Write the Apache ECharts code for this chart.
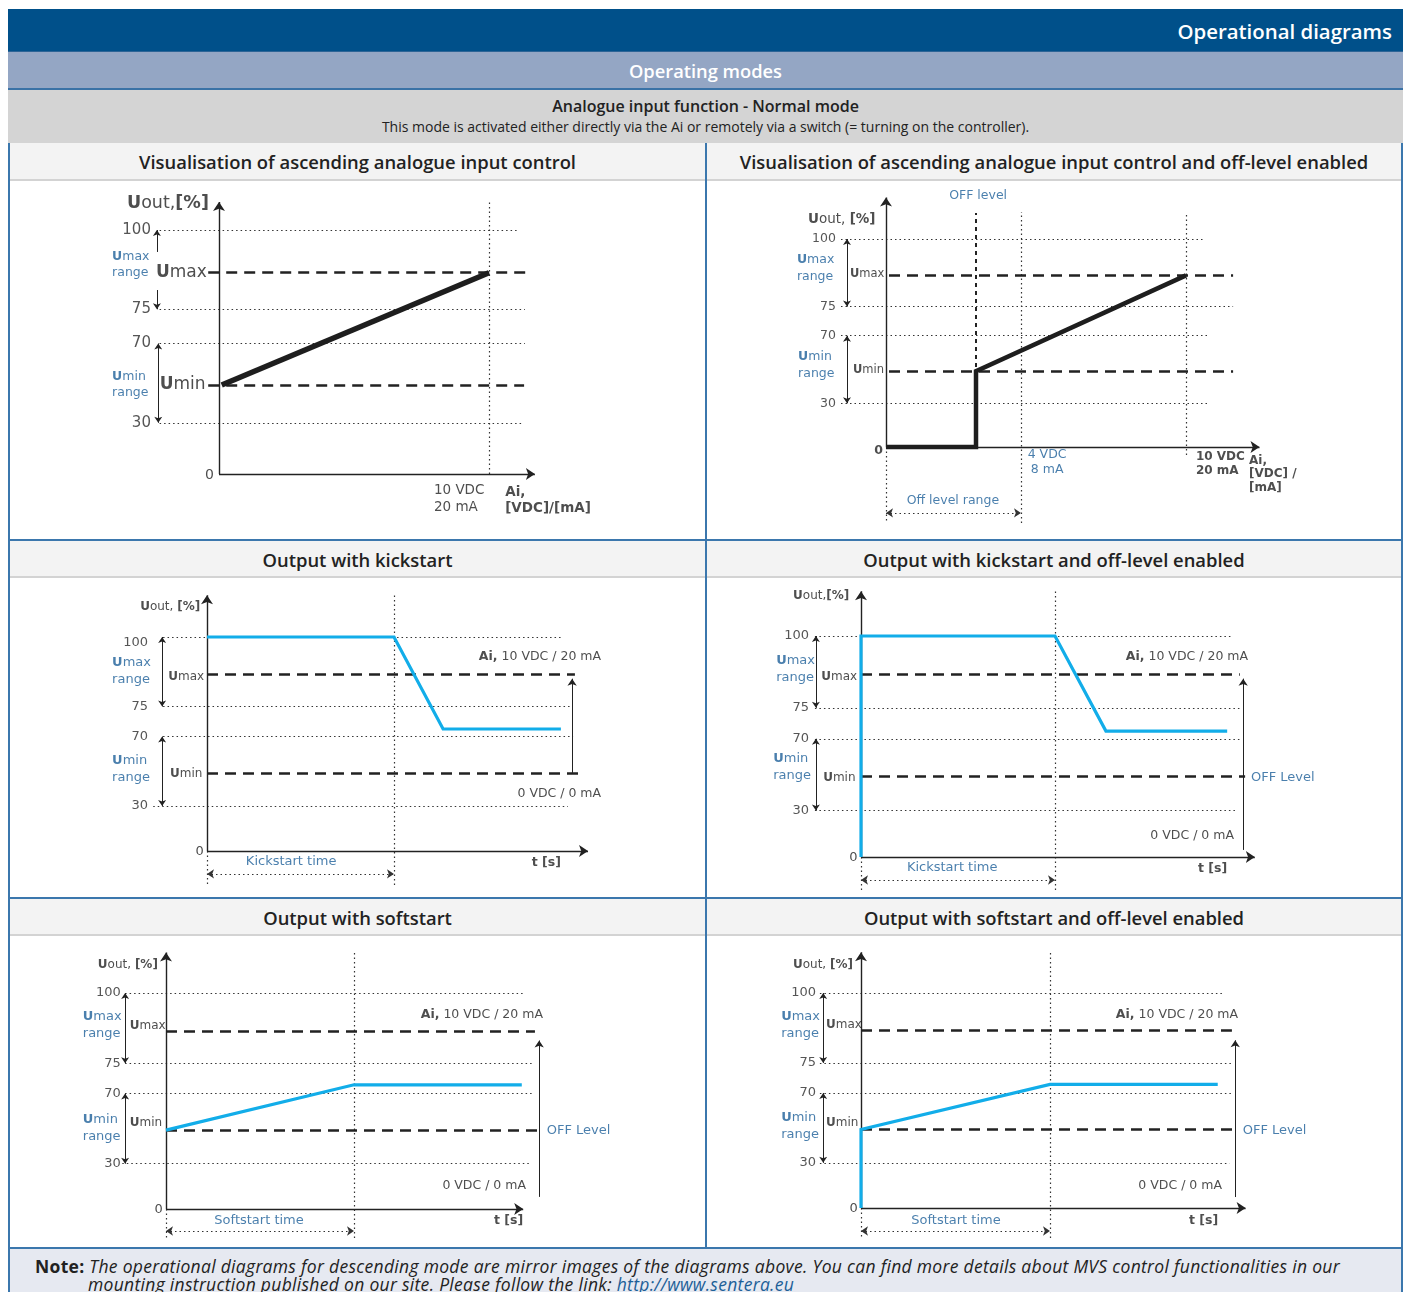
<!DOCTYPE html>
<html><head><meta charset="utf-8"><title>Operational diagrams</title>
<script src="https://cdn.jsdelivr.net/npm/echarts@6.0.0/dist/echarts.min.js"></script>
<style>
html,body{margin:0;padding:0;background:#fff;}
#page{position:relative;width:1405px;height:1292px;overflow:hidden;font-family:'Open Sans','Noto Sans',sans-serif;color:#222;}
.blk{position:absolute;box-sizing:border-box;}
.ttl{position:absolute;box-sizing:border-box;background:#f3f3f3;border-bottom:2px solid #d3d3d3;text-align:center;font-size:18.4px;font-weight:600;color:#222;}
.hl{position:absolute;left:8px;width:1395px;height:2px;background:#3b77ad;}
#chart{position:absolute;left:0;top:0;width:1405px;height:1292px;z-index:5;}
</style></head>
<body><div id="page">
<div class="blk" style="left:8px;top:9px;width:1395px;height:42px;background:#00508a;color:#fff;font-size:20.4px;font-weight:600;text-align:right;line-height:44px;padding-right:11px;">Operational diagrams</div>
<div class="blk" style="left:8px;top:51px;width:1395px;height:39px;background:#94a6c4;border-top:1px solid #2d6496;border-bottom:2px solid #3a72a6;color:#fff;font-size:18.3px;font-weight:600;text-align:center;line-height:38px;">Operating modes</div>
<div class="blk" style="left:8px;top:90px;width:1395px;height:53px;background:#d4d4d4;text-align:center;color:#222;">
  <div style="font-size:16px;font-weight:600;padding-top:5px;line-height:23px;">Analogue input function - Normal mode</div>
  <div style="font-size:14px;line-height:18px;">This mode is activated either directly via the Ai or remotely via a switch (= turning on the controller).</div>
</div>
<div class="blk" style="left:8px;top:143px;width:1395px;height:1150px;border-left:2px solid #3b77ad;border-right:2px solid #3b77ad;"></div>
<div class="ttl" style="left:10px;top:143px;width:695px;height:38px;line-height:38px;">Visualisation of ascending analogue input control</div>
<div class="ttl" style="left:707px;top:143px;width:694px;height:38px;line-height:38px;">Visualisation of ascending analogue input control and off-level enabled</div>
<div class="hl" style="top:539px;"></div>
<div class="ttl" style="left:10px;top:541px;width:695px;height:37px;line-height:37px;">Output with kickstart</div>
<div class="ttl" style="left:707px;top:541px;width:694px;height:37px;line-height:37px;">Output with kickstart and off-level enabled</div>
<div class="hl" style="top:897px;"></div>
<div class="ttl" style="left:10px;top:899px;width:695px;height:37px;line-height:37px;">Output with softstart</div>
<div class="ttl" style="left:707px;top:899px;width:694px;height:37px;line-height:37px;">Output with softstart and off-level enabled</div>
<div class="hl" style="top:1247px;"></div>
<div class="blk" style="left:705px;top:143px;width:2px;height:1105px;background:#3b77ad;"></div>
<div class="blk" style="left:10px;top:1249px;width:1391px;height:43px;background:#e6e9f1;font-size:17.5px;line-height:18px;color:#222;letter-spacing:0.3px;">
  <div style="position:absolute;left:25px;top:8px;white-space:nowrap;"><b>Note:</b> <i>The operational diagrams for descending mode are mirror images of the diagrams above. You can find more details about MVS control functionalities in our</i></div>
  <div style="position:absolute;left:78px;top:26px;white-space:nowrap;"><i>mounting instruction published on our site. Please follow the link: <span style="color:#1d5f98;">http://www.sentera.eu</span></i></div>
</div>
<div id="chart"></div>
</div>
<script>
// ---------------- data ----------------
// schematic output levels (height on the diagram's Uout scale)
const levelNames  = ['0', '30', 'Umin', '70', '75', 'Umax', '100'];
const levelValues = [0, 21, 36.5, 53.5, 67.5, 82.5, 100];
const tickLabels  = ['100', '75', '70', '30'];

// 1. ascending analogue input control (x = Ai in VDC)
const aiInput  = [0.1, 10];
const aiOutput = [36.5, 82.5];

// 2. ascending control with off-level (x = Ai in VDC, schematic)
const offAiInput  = [0, 3, 3, 10];
const offAiOutput = [0, 0, 36.5, 82.5];
const offLevelMark = 3;     // OFF level
const fourVdcMark  = 4.5;   // 4 VDC / 8 mA mark (schematic)
const tenVdcMark   = 10;

// 3. output with kickstart (x = time, schematic)
const kickTime   = [0, 4, 5.05, 7.57];
const kickOutput = [100, 100, 57, 57];
// 4. output with kickstart and off-level
const kickOffTime   = [0, 0, 4, 5.05, 7.55];
const kickOffOutput = [0, 100, 100, 57, 57];
// 5. output with softstart
const softTime   = [0, 4, 7.57];
const softOutput = [36.5, 57.5, 57.5];
// 6. output with softstart and off-level
const softOffTime   = [0, 0, 4, 7.55];
const softOffOutput = [0, 36.5, 57.5, 57.5];
const startTimeMark = 4;

// ---------------- helpers ----------------
const FONT = "'DejaVu Sans', Verdana, sans-serif";
const BLUE_TXT = '#1d5f98';
const BLUE_LINE = '#12ade9';
const INK = '#222';
const lv = n => levelValues[levelNames.indexOf(n)];

const DOT  = {color: '#333', width: 1.2, type: [1.5, 3], opacity: 1};
const DASH = {color: '#222', width: 2.6, type: [11, 7], opacity: 1};
const AX   = {color: '#222', width: 1.4, type: 'solid', opacity: 1};
const THIN = {color: '#222', width: 1, type: 'solid', opacity: 1};

const grids = [], xAxes = [], yAxes = [], series = [];

function addGrid(m) {
  const i = grids.length;
  grids.push({left: m.L, top: m.T, width: m.R - m.L, height: m.B - m.T, containLabel: false, outerBoundsMode: 'none', show: false});
  xAxes.push({type: 'value', gridIndex: i, min: (m.L - m.ox) / m.sx, max: (m.R - m.ox) / m.sx, show: false});
  yAxes.push({type: 'value', gridIndex: i, min: (m.oy - m.B) / m.sy, max: (m.oy - m.T) / m.sy, show: false});
  return i;
}
function lines(i, segs, style, sym, size) {
  return {
    type: 'lines', coordinateSystem: 'cartesian2d', xAxisIndex: i, yAxisIndex: i,
    polyline: false, silent: true, animation: false, z: 3,
    symbol: sym || 'none', symbolSize: size || 0,
    lineStyle: Object.assign({curveness: 0}, style),
    data: segs.map(s => {
      const d = {coords: [[s[0], s[1]], [s[2], s[3]]]};
      if (s[4]) d.lineStyle = s[4];
      return d;
    })
  };
}
function curve(i, xs, ys, color, width) {
  return {
    type: 'line', xAxisIndex: i, yAxisIndex: i, silent: true, animation: false, z: 6,
    symbol: 'none', showSymbol: false, clip: false,
    lineStyle: {color: color, width: width, cap: 'butt', join: 'miter'},
    data: xs.map((x, k) => [x, ys[k]])
  };
}
function txt(x, y, f, o) {
  o = o || {};
  const s = o.s || 13, c = o.c || INK, lh = o.lh || Math.round(s * 1.25);
  const base = {fontFamily: FONT, fontSize: s, color: c, lineHeight: lh};
  return {
    value: [x, y],
    label: Object.assign({show: true, position: 'inside', formatter: f, align: o.a || 'left', verticalAlign: 'middle',
      fontWeight: o.w || 'normal',
      rich: {bd: Object.assign({}, base, {fontWeight: 'bold'}), nm: Object.assign({}, base, {fontWeight: 'normal'})}}, base)
  };
}
function texts(i, data) {
  return {type: 'scatter', xAxisIndex: i, yAxisIndex: i, silent: true, animation: false, z: 10, clip: false,
    symbolSize: 1, itemStyle: {color: 'rgba(0,0,0,0)'}, emphasis: {disabled: true}, data: data};
}

// ---------------- chart 1 ----------------
(function () {
  const i = addGrid({L: 9, T: 181, R: 705, B: 539, ox: 219, oy: 474, sx: 27, sy: 2.44});
  const ends = [11.04, 11.33, 11.33, 11.22];
  const dotted = tickLabels.map((t, k) => [-2.2, lv(t), ends[k], lv(t)]).concat([[tenVdcMark, 0, tenVdcMark, 111.5]]);
  const dashed = [[-0.4, lv('Umax'), 11.4, lv('Umax')], [-0.4, lv('Umin'), 11.3, lv('Umin')]];
  const axes = [[0, 0, 0, 111.5], [0, 0, 11.7, 0]];
  const single = [[-2.3, 91, -2.3, lv('100')], [-2.3, 75.4, -2.3, lv('75')]];
  const dbl = [[-2.25, lv('70'), -2.25, lv('30')]];
  series.push(lines(i, dotted, DOT), lines(i, dashed, DASH), lines(i, axes, AX, ['none', 'arrow'], 9),
    lines(i, single, THIN, ['none', 'arrow'], 6), lines(i, dbl, THIN, ['arrow', 'arrow'], 6));
  series.push(curve(i, aiInput, aiOutput, '#1e1e1e', 5.5));
  const T = tickLabels.map(t => txt(-2.52, lv(t), t, {s: 15, a: 'right', c: '#2a2a2a'}));
  T.push(txt(-0.45, lv('Umax'), '{bd|U}{nm|max}', {s: 17, a: 'right'}));
  T.push(txt(-0.5, lv('Umin'), '{bd|U}{nm|min}', {s: 17, a: 'right'}));
  T.push(txt(-3.96, 85.7, '{bd|U}{nm|max}\n{nm|range}', {s: 12.5, c: BLUE_TXT, lh: 16}));
  T.push(txt(-3.96, 36.7, '{bd|U}{nm|min}\n{nm|range}', {s: 12.5, c: BLUE_TXT, lh: 16}));
  T.push(txt(-3.41, 111, '{bd|U}{nm|out,}{bd|[%]}', {s: 17.5}));
  T.push(txt(-0.19, -0.4, '0', {s: 14, a: 'right'}));
  T.push(txt(7.96, -10.2, '10 VDC\n20 mA', {s: 13.5, lh: 17}));
  T.push(txt(10.6, -11, '{bd|Ai,}\n{bd|[VDC]/[mA]}', {s: 13.5, lh: 16}));
  series.push(texts(i, T));
})();

// ---------------- chart 2 ----------------
(function () {
  const i = addGrid({L: 707, T: 181, R: 1402, B: 539, ox: 886, oy: 447, sx: 30, sy: 2.08});
  const ends = [10.57, 11.57, 10.8, 10.73];
  const dotted = tickLabels.map((t, k) => [-1.5, lv(t), ends[k], lv(t)]).concat([
    [fourVdcMark, -36.5, fourVdcMark, 113], [tenVdcMark, -3.8, tenVdcMark, 113], [0, 0, 0, -36.5]]);
  const dashed = [[0.1, lv('Umax'), 11.57, lv('Umax')], [0.1, lv('Umin'), 11.57, lv('Umin')],
    [offLevelMark, 0, offLevelMark, 112.5, {color: '#222', width: 2, type: [4, 4], opacity: 1}]];
  const axes = [[0, 0, 0, 120], [0, 0, 12.45, 0]];
  const dbl = [[-1.3, lv('100'), -1.3, lv('75')], [-1.3, lv('70'), -1.3, lv('30')]];
  const bracket = [[0, -31.7, fourVdcMark, -31.7]];
  series.push(lines(i, dotted, DOT), lines(i, bracket, DOT, ['arrow', 'arrow'], 7), lines(i, dashed, DASH),
    lines(i, axes, AX, ['none', 'arrow'], 9), lines(i, dbl, THIN, ['arrow', 'arrow'], 6));
  series.push(curve(i, offAiInput, offAiOutput, '#1e1e1e', 4.5));
  const T = tickLabels.map(t => txt(-1.67, lv(t), t, {s: 12.5, a: 'right', c: '#2a2a2a'}));
  T.push(txt(-1.2, lv('Umax') + 0.5, '{bd|U}{nm|max}', {s: 11.5}));
  T.push(txt(-1.1, lv('Umin') + 0.5, '{bd|U}{nm|min}', {s: 11.5}));
  T.push(txt(-2.97, 86, '{bd|U}{nm|max}\n{nm|range}', {s: 12.5, c: BLUE_TXT, lh: 16.5}));
  T.push(txt(-2.93, 39.4, '{bd|U}{nm|min}\n{nm|range}', {s: 12.5, c: BLUE_TXT, lh: 16.5}));
  T.push(txt(-2.6, 109.6, '{bd|U}{nm|out, }{bd|[%]}', {s: 13.5}));
  T.push(txt(-0.1, -1.9, '{bd|0}', {s: 12.5, a: 'right'}));
  T.push(txt(3.07, 120.7, 'OFF level', {s: 12.5, a: 'center', c: BLUE_TXT}));
  T.push(txt(5.37, -7.2, '4 VDC\n8 mA', {s: 12.5, a: 'center', c: BLUE_TXT, lh: 15}));
  T.push(txt(10.33, -8.2, '{bd|10 VDC}\n{bd|20 mA}', {s: 12, lh: 14}));
  T.push(txt(12.1, -13, '{bd|Ai,}\n{bd|[VDC] /}\n{bd|[mA]}', {s: 12, lh: 13.5}));
  T.push(txt(2.23, -26, 'Off level range', {s: 12.5, a: 'center', c: BLUE_TXT}));
  series.push(texts(i, T));
})();

// ---------------- charts 3-6 ----------------
function timeChart(m, p, xs, ys) {
  const i = addGrid(m);
  const dotted = tickLabels.map((t, k) => [t === '30' ? p.dot30 : p.dotStart, lv(t), p.dotEnds[k], lv(t)])
    .concat([[startTimeMark, p.below, startTimeMark, p.axisTop], [0, 0, 0, p.below]]);
  const dashed = [[0, lv('Umax'), p.dashEnds[0], lv('Umax')], [0, lv('Umin'), p.dashEnds[1], lv('Umin')]];
  const axes = [[0, 0, 0, p.axisTop], [0, 0, p.axisEnd, 0]];
  const single = [[p.offX, p.offFrom, p.offX, p.offTo]];
  const dbl = [[p.rangeX, lv('100'), p.rangeX, lv('75')], [p.rangeX, lv('70'), p.rangeX, lv('30')]];
  const bracket = [[0, p.bracketY, startTimeMark, p.bracketY]];
  series.push(lines(i, dotted, DOT), lines(i, bracket, DOT, ['arrow', 'arrow'], 7), lines(i, dashed, DASH),
    lines(i, axes, AX, ['none', 'arrow'], 9), lines(i, single, THIN, ['none', 'arrow'], 7),
    lines(i, dbl, THIN, ['arrow', 'arrow'], 6));
  series.push(curve(i, xs, ys, BLUE_LINE, 3.2));
  const T = tickLabels.map(t => txt(p.tickX, lv(t) - (t === '100' ? p.tick100Drop : 0), t, {s: 13, a: 'right', c: '#2a2a2a'}));
  T.push(txt(p.umaxX, p.umaxY, '{bd|U}{nm|max}', {s: 12}));
  T.push(txt(p.uminX, p.uminY, '{bd|U}{nm|min}', {s: 12}));
  T.push(txt(p.rtX, p.rmaxY, '{bd|U}{nm|max}\n{nm|range}', {s: 13, c: BLUE_TXT, lh: 17}));
  T.push(txt(p.rtX2, p.rminY, '{bd|U}{nm|min}\n{nm|range}', {s: 13, c: BLUE_TXT, lh: 17}));
  T.push(txt(p.uoutX, p.uoutY, p.uoutFmt, {s: 12}));
  T.push(txt(-0.07, -0.5, '0', {s: 13, a: 'right'}));
  T.push(txt(p.aiX, p.aiY, '{bd|Ai,}{nm| 10 VDC / 20 mA}', {s: 12.5, a: 'right'}));
  T.push(txt(p.vdcX, p.vdcY, '0 VDC / 0 mA', {s: 12.5, a: 'right'}));
  T.push(txt(p.tX, p.tY, '{bd|t [s]}', {s: 12.5, a: 'right'}));
  T.push(txt(p.markTxtX, p.markTxtY, p.markTxt, {s: 13, a: 'center', c: BLUE_TXT}));
  if (p.offTxtX != null) T.push(txt(p.offTxtX, p.offTxtY, 'OFF Level', {s: 13, c: BLUE_TXT}));
  series.push(texts(i, T));
}

timeChart({L: 9, T: 578, R: 705, B: 897, ox: 207, oy: 851, sx: 46.75, sy: 2.14}, {
  dotStart: -0.94, dot30: -1.15, dotEnds: [7.6, 7.76, 7.83, 7.72], dashEnds: [7.87, 7.94],
  below: -15.9, axisTop: 119.5, axisEnd: 8.15, offX: 7.81, offFrom: lv('Umin'), offTo: 80.5,
  rangeX: -0.96, bracketY: -10.7, tickX: -1.26, tick100Drop: 2.5, umaxX: -0.83, umaxY: 81.5, uminX: -0.79, uminY: 36,
  rtX: -2.03, rtX2: -2.03, rmaxY: 84.1, rminY: 38.3, uoutX: -1.43, uoutY: 114, uoutFmt: '{bd|U}{nm|out, }{bd|[%]}',
  aiX: 8.43, aiY: 90.7, vdcX: 8.43, vdcY: 26.6, tX: 7.57, tY: -5.6, markTxtX: 1.8, markTxtY: -5.1, markTxt: 'Kickstart time'
}, kickTime, kickOutput);

timeChart({L: 707, T: 578, R: 1402, B: 897, ox: 861, oy: 857, sx: 48.5, sy: 2.21}, {
  dotStart: -0.95, dot30: -0.95, dotEnds: [7.65, 7.81, 7.81, 7.75], dashEnds: [7.81, 7.92],
  below: -14.9, axisTop: 120.2, axisEnd: 8.12, offX: 7.88, offFrom: 3.2, offTo: 80.7,
  rangeX: -0.93, bracketY: -10.4, tickX: -1.07, tick100Drop: 0, umaxX: -0.82, umaxY: 81.5, uminX: -0.78, uminY: 36,
  rtX: -1.75, rtX2: -1.81, rmaxY: 85, rminY: 40.7, uoutX: -1.4, uoutY: 118, uoutFmt: '{bd|U}{nm|out,}{bd|[%]}',
  aiX: 7.98, aiY: 90.5, vdcX: 7.69, vdcY: 9.5, tX: 7.55, tY: -5.4, markTxtX: 1.88, markTxtY: -5, markTxt: 'Kickstart time',
  offTxtX: 8.04, offTxtY: 35.7
}, kickOffTime, kickOffOutput);

timeChart({L: 9, T: 936, R: 705, B: 1247, ox: 166, oy: 1209, sx: 47, sy: 2.16}, {
  dotStart: -0.87, dot30: -0.93, dotEnds: [7.6, 7.8, 7.8, 7.74], dashEnds: [7.85, 7.96],
  below: -13.4, axisTop: 118.8, axisEnd: 7.6, offX: 7.94, offFrom: 5.6, offTo: 78,
  rangeX: -0.87, bracketY: -10.2, tickX: -0.96, tick100Drop: 0, umaxX: -0.77, umaxY: 85, uminX: -0.77, uminY: 40,
  rtX: -1.77, rtX2: -1.77, rmaxY: 85.2, rminY: 37.5, uoutX: -1.45, uoutY: 113, uoutFmt: '{bd|U}{nm|out, }{bd|[%]}',
  aiX: 8.02, aiY: 89.8, vdcX: 7.66, vdcY: 10.6, tX: 7.6, tY: -5.6, markTxtX: 1.98, markTxtY: -5.6, markTxt: 'Softstart time',
  offTxtX: 8.1, offTxtY: 36.1
}, softTime, softOutput);

timeChart({L: 707, T: 936, R: 1402, B: 1247, ox: 861, oy: 1208, sx: 47.25, sy: 2.15}, {
  dotStart: -0.87, dot30: -0.87, dotEnds: [7.64, 7.87, 7.87, 7.8], dashEnds: [7.85, 7.96],
  below: -14, axisTop: 118.9, axisEnd: 8.14, offX: 7.92, offFrom: 5.1, offTo: 78,
  rangeX: -0.8, bracketY: -10.7, tickX: -0.95, tick100Drop: 0, umaxX: -0.74, umaxY: 85, uminX: -0.74, uminY: 39.7,
  rtX: -1.69, rtX2: -1.69, rmaxY: 85.1, rminY: 38.1, uoutX: -1.44, uoutY: 113, uoutFmt: '{bd|U}{nm|out, }{bd|[%]}',
  aiX: 7.98, aiY: 89.8, vdcX: 7.64, vdcY: 10.2, tX: 7.56, tY: -6, markTxtX: 2.01, markTxtY: -6, markTxt: 'Softstart time',
  offTxtX: 8.08, offTxtY: 35.8
}, softOffTime, softOffOutput);

const chart = echarts.init(document.getElementById('chart'), null, {renderer: 'canvas'});
chart.setOption({
  animation: false,
  backgroundColor: 'transparent',
  textStyle: {fontFamily: FONT},
  tooltip: {show: false},
  grid: grids, xAxis: xAxes, yAxis: yAxes, series: series
});
</script>
</body></html>
